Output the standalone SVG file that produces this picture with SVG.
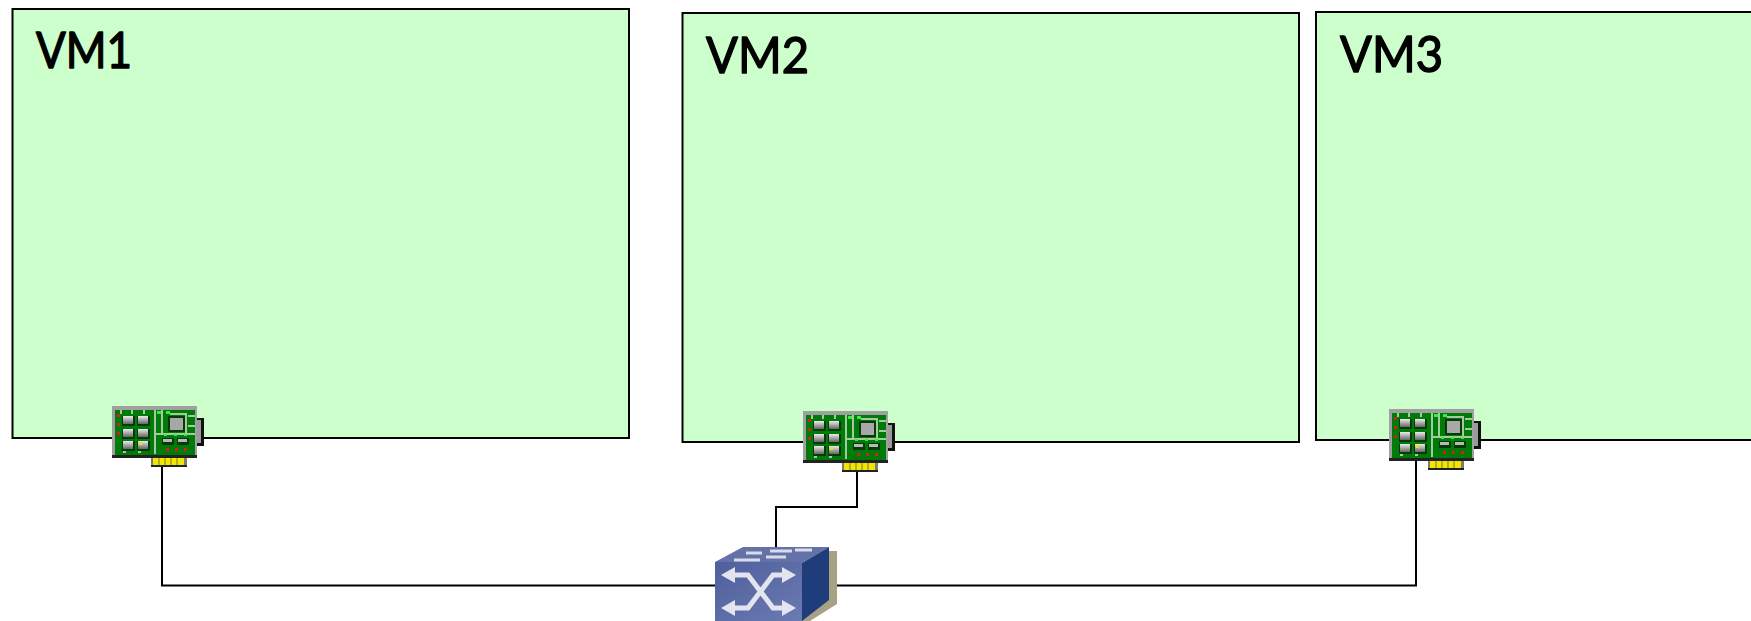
<svg xmlns="http://www.w3.org/2000/svg" width="1751" height="621" viewBox="0 0 1751 621">
<style>
.vm{fill:#ccffcc;stroke:#000;stroke-width:2}
.lbl{font-family:"Lato","Noto Sans",sans-serif;font-size:50px;fill:#000;stroke:#000;stroke-width:1.4px;stroke-linejoin:round}
.wire{fill:none;stroke:#000;stroke-width:2}
.chip{fill:url(#chipg)}
.sh{fill:#063a08}
.trace{fill:none;stroke:#a8c8a0;stroke-width:2}
.red{fill:#d02020}
.led{fill:#30f040}
.fin{fill:#f2e600}
.arr{fill:none;stroke:#e2e5ee;stroke-width:5}
.hd{fill:#e2e5ee}
</style>
<defs>
<linearGradient id="chipg" x1="0" y1="0" x2="0" y2="1"><stop offset="0" stop-color="#ececec"/><stop offset="1" stop-color="#666"/></linearGradient>
<linearGradient id="front" x1="0" y1="0" x2="1" y2="1"><stop offset="0" stop-color="#4f5f9c"/><stop offset="1" stop-color="#6c7ab2"/></linearGradient>
<g id="nic">
<rect x="84" y="12" width="8" height="28" fill="#111"/>
<rect x="85" y="14" width="4" height="23" fill="#9a9a9a"/>
<rect x="0" y="0" width="85" height="52" fill="#a0a0a0"/>
<rect x="3" y="4" width="80" height="45" fill="#007a08"/>
<path class="trace" d="M9 4V8M20 4V8M32 4V8M43 4V48M44 28H83M50 4V28M58 8H74V28M76 10H83M76 20H83M11 46H14M26 46H29"/>
<rect class="sh" x="10" y="10" width="13" height="10"/>
<rect class="sh" x="25" y="10" width="13" height="10"/>
<rect class="sh" x="10" y="23" width="13" height="10"/>
<rect class="sh" x="25" y="23" width="13" height="10"/>
<rect class="sh" x="10" y="35" width="13" height="10"/>
<rect class="sh" x="25" y="35" width="13" height="10"/>
<rect class="chip" x="11" y="10" width="10" height="8"/>
<rect class="chip" x="26" y="10" width="10" height="8"/>
<rect class="chip" x="11" y="23" width="10" height="8"/>
<rect class="chip" x="26" y="23" width="10" height="8"/>
<rect class="chip" x="11" y="35" width="10" height="8"/>
<rect class="chip" x="26" y="35" width="10" height="8"/>
<rect class="sh" x="56" y="10" width="17" height="16"/>
<rect x="58" y="12" width="13" height="12" fill="#a8a8a8"/>
<rect class="sh" x="50" y="32" width="12" height="7"/>
<rect class="sh" x="65" y="32" width="12" height="7"/>
<rect x="51" y="33" width="9" height="3" fill="#b8b8b8"/>
<rect x="66" y="33" width="9" height="3" fill="#b8b8b8"/>
<rect class="red" x="5" y="8" width="3" height="3"/>
<rect class="red" x="5" y="17" width="3" height="3"/>
<rect class="red" x="5" y="26" width="3" height="3"/>
<rect class="led" x="45" y="5" width="4" height="3"/>
<rect class="led" x="54" y="5" width="4" height="3"/>
<rect class="led" x="52" y="28" width="3" height="2"/>
<rect class="led" x="62" y="28" width="3" height="2"/>
<rect class="led" x="72" y="28" width="3" height="2"/>
<rect class="red" x="54" y="42" width="3" height="3"/>
<rect class="red" x="63" y="42" width="3" height="3"/>
<rect class="red" x="72" y="42" width="3" height="3"/>
<rect x="27" y="36" width="3" height="3" fill="#e8e020"/>
<rect x="0" y="49" width="85" height="3" fill="#222"/>
<rect x="39" y="52" width="36" height="9" fill="#7c7c70"/>
<rect x="41" y="52" width="31" height="7" class="fin"/>
<path d="M47 52V59M53 52V59M59 52V59M65 52V59" stroke="#8a8a30" stroke-width="1.2" fill="none"/>
<rect x="39" y="59" width="36" height="2" fill="#222"/>
</g>
</defs>
<g id="vm1"><rect class="vm" x="12.500" y="9" width="616.500" height="429"/><text class="lbl" x="36" y="68" textLength="96" lengthAdjust="spacingAndGlyphs">VM1</text></g>
<g id="vm2"><rect class="vm" x="682.500" y="13" width="616.500" height="429"/><text class="lbl" x="706" y="73" textLength="103" lengthAdjust="spacingAndGlyphs">VM2</text></g>
<g id="vm3"><rect class="vm" x="1316" y="12" width="445" height="428"/><text class="lbl" x="1340" y="72" textLength="103" lengthAdjust="spacingAndGlyphs">VM3</text></g>
<g id="connectors">
<path class="wire" d="M162 465V585.500H720"/>
<path class="wire" d="M857 470V507H776V550"/>
<path class="wire" d="M830 585.500H1416V458"/>
</g>
<g id="nic1"><use href="#nic" x="112" y="406"/></g>
<g id="nic2"><use href="#nic" x="803" y="411"/></g>
<g id="nic3"><use href="#nic" x="1389" y="409"/></g>
<g id="switch">
<path d="M828 551H837V604L810 621H802Z" fill="#a8a284"/>
<path d="M715 562L743 547H829L802 563Z" fill="#6472a8"/>
<path d="M802 563L829 547V600L802 621Z" fill="#1f3d7a"/>
<path d="M715 562H802V621H715Z" fill="url(#front)"/>
<path class="arr" d="M730 575H748L773 608H790M730 608H748L773 575H790"/>
<path class="hd" d="M721 575L735 567V583ZM796 575L782 567V583ZM721 608L735 600V616ZM796 608L782 600V616Z"/>
<path d="M746 553H762M770 551H792M734 560H760M766 557H786M795 550H812" stroke="#d8dcea" stroke-width="3" fill="none"/>
</g>
</svg>
